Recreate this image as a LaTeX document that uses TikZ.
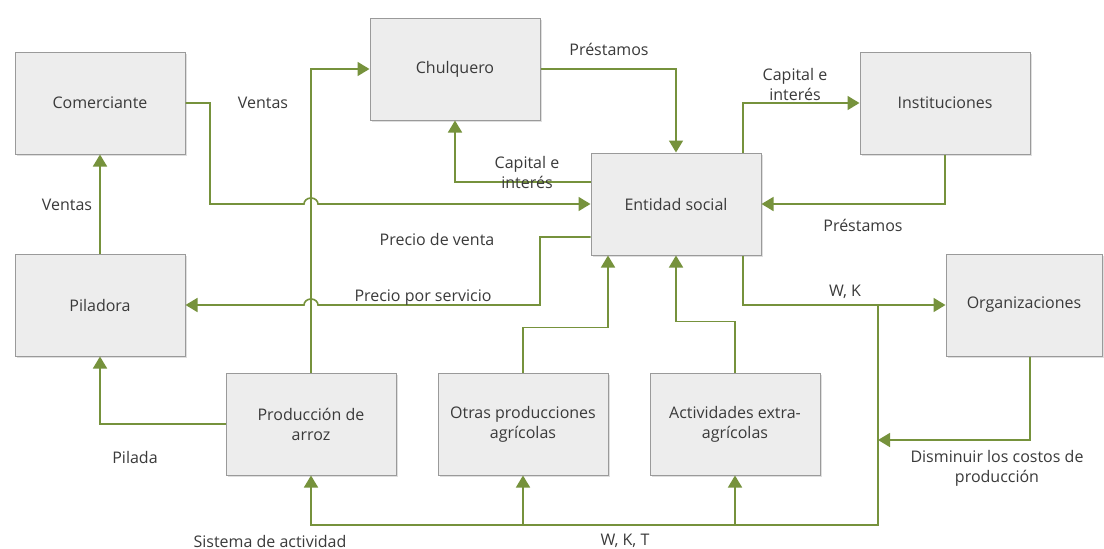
\documentclass[tikz,border=0pt]{standalone}
\usepackage{fontspec}
\setmainfont{Open Sans}
\usetikzlibrary{arrows.meta,shadows}
\definecolor{flowgreen}{HTML}{76923C}
\definecolor{boxfill}{HTML}{EDEDED}
\definecolor{boxline}{HTML}{9A9A9A}
\definecolor{txt}{HTML}{3A3A3A}
\begin{document}
\begin{tikzpicture}[x=1pt,y=-1pt,
  every node/.style={text=txt,font=\fontsize{16}{20}\selectfont},
  actor/.style={draw=boxline,line width=1pt,fill=boxfill,
    minimum width=170pt,minimum height=102pt,align=center,
    drop shadow={shadow xshift=1.5pt,shadow yshift=-1.5pt,opacity=0.25}},
  flow/.style={draw=flowgreen,line width=1.6pt,
    -{Triangle[width=14pt,length=12pt,fill=flowgreen]}},
  wire/.style={draw=flowgreen,line width=1.6pt},
  lbl/.style={align=center,inner sep=0pt}]
\useasboundingbox (0,0) rectangle (1104,549);
\fill[white] (0,0) rectangle (1104,549);

% actors
\node[actor] (com)   at (100,103) {Comerciante};
\node[actor] (chu)   at (455,69)  {Chulquero};
\node[actor] (inst)  at (945,103) {Instituciones};
\node[actor] (ent)   at (676,204) {Entidad social};
\node[actor] (pil)   at (100,305) {Piladora};
\node[actor,minimum width=156pt] (org) at (1024,305) {Organizaciones};
\node[actor] (prod)  at (311,424) {Producción de\\arroz};
\node[actor] (otras) at (523,424) {Otras producciones\\agrícolas};
\node[actor] (act)   at (735,424) {Actividades extra-\\agrícolas};

% junction points of the resource bus
\coordinate (wk)  at (878,305);
\coordinate (bus) at (878,525);
\coordinate (dj)  at (878,440);

% sales of the trader, hopping over the rice line
\draw[flow] (com.east) -- (210,103) -- (210,204) -- (304,204)
  arc[start angle=180,end angle=360,x radius=7,y radius=6] -- (ent.west);
% rice production sold to the money lender
\draw[flow] (prod.north) |- (chu.west);
% mill to trader
\draw[flow] (pil.north) -- (com.south);
% loans and repayments
\draw[flow] (chu.east) -| (ent.north);
\draw[flow] ([yshift=22pt]ent.west) -| (chu.south);
\draw[flow] ([xshift=67pt]ent.north) |- (inst.west);
\draw[flow] (inst.south) |- (ent.east);
% service price paid to the mill
\draw[flow] ([yshift=-33pt]ent.west) -- (540,237) -- (540,305) -- (318,305)
  arc[start angle=0,end angle=-180,x radius=7,y radius=6] -- (pil.east);
% milling
\draw[flow] (prod.west) -| (pil.south);
% other incomes
\draw[flow] (otras.north) -- ++(0,-45) -| ([xshift=-68pt]ent.south);
\draw[flow] (act.north) -- ++(0,-51) -| (ent.south);
% labour and capital to organisations
\draw[flow] ([xshift=67pt]ent.south) |- (org.west);
\draw[flow] ([xshift=6pt]org.south) |- (dj);
% W, K, T bus
\draw[flow] (wk) -- (bus) -| (prod.south);
\draw[flow] (otras.south |- bus) -- (otras.south);
\draw[flow] (act.south |- bus) -- (act.south);

% labels
\node[lbl] (l1)  at (263,103) {Ventas};
\node[lbl] (l2)  at (67,205)  {Ventas};
\node[lbl] (l3)  at (609,49)  {Préstamos};
\node[lbl] (l4)  at (527,172) {Capital e\\interés};
\node[lbl] (l5)  at (795,84)  {Capital e\\interés};
\node[lbl] (l6)  at (863,225) {Préstamos};
\node[lbl] (l7)  at (437,239) {Precio de venta};
\node[lbl] (l8)  at (423,298) {Precio por servicio};
\node[lbl] (l9)  at (845,292) {W, K};
\node[lbl] (l10) at (997,468) {Disminuir los costos de\\producción};
\node[lbl] (l11) at (135,457) {Pilada};
\node[lbl] (l12) at (270,541) {Sistema de actividad};
\node[lbl] (l13) at (625,541) {W, K, T};
\end{tikzpicture}
\end{document}
